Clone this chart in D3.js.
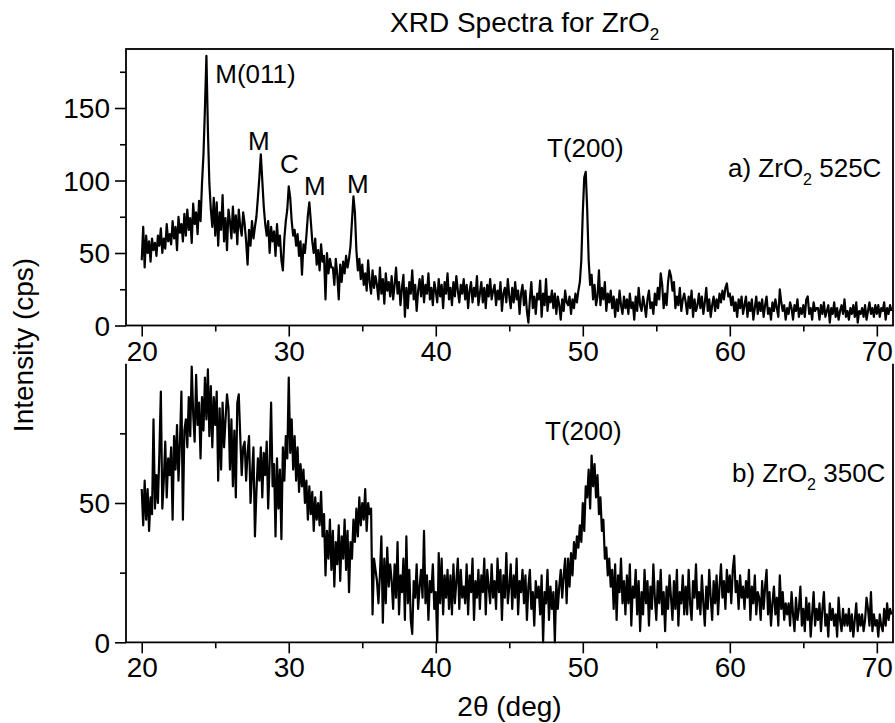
<!DOCTYPE html>
<html>
<head>
<meta charset="utf-8">
<script src="https://cdn.jsdelivr.net/npm/d3@7"></script>
<style>
  body { margin: 0; background: #fff; }
  text { font-family: "Liberation Sans", Arial, sans-serif; fill: #000; }
</style>
</head>
<body>
<div id="chart"></div>
<script>
// scan grid (deg 2-theta): one reading every 0.1 deg from 20 to 71
var scanStart = 20, scanStep = 0.1;

// a) ZrO2 525C, intensity (cps), one row per degree
var intensity525 = [
  45,68,40,62,50,58,44,60,52,57,   // 20
  48,62,55,67,50,60,53,70,58,63,   // 21
  56,72,60,68,52,75,64,70,58,77,   // 22
  62,80,66,74,57,84,70,78,63,86,   // 23
  72,98,118,150,186,135,98,80,68,88, // 24
  62,85,55,78,66,90,58,74,52,80,   // 25
  72,60,82,64,76,56,80,68,62,78,   // 26
  70,58,42,66,55,72,60,68,75,88,   // 27
  102,118,100,82,70,62,72,50,68,58, // 28
  65,48,70,55,62,45,38,60,72,80,   // 29
  96,88,72,62,66,55,63,48,58,35,   // 30
  56,50,62,76,85,72,58,50,60,42,   // 31
  52,38,56,44,48,18,50,36,46,40,   // 32
  40,28,46,35,18,42,30,44,36,48,   // 33
  40,46,55,72,89,78,52,38,46,32,   // 34
  42,28,36,24,45,30,22,38,26,34,   // 35
  28,18,40,22,32,15,36,24,30,20,   // 36
  34,18,28,40,22,30,14,26,35,6,    // 37
  26,12,30,22,38,18,28,10,24,32,   // 38
  20,34,16,28,22,36,18,26,14,30,   // 39
  24,16,32,20,28,12,30,22,36,18,   // 40
  26,14,30,20,34,24,16,28,22,32,   // 41
  18,28,12,24,30,16,26,20,34,14,   // 42
  22,30,16,26,12,28,20,32,18,24,   // 43
  28,14,24,18,30,10,22,26,16,32,   // 44
  20,12,26,16,30,18,24,8,22,28,    // 45
  14,24,10,2,18,30,12,20,8,22,     // 46
  18,31,6,22,14,32,10,20,16,24,    // 47
  12,22,8,20,14,4,18,10,24,16,     // 48
  14,20,8,18,12,22,16,24,30,45,    // 49
  78,102,106,80,45,28,35,18,28,14, // 50
  20,38,14,26,18,30,10,22,16,24,   // 51
  12,20,6,18,10,24,14,8,20,12,     // 52
  18,8,22,12,16,4,20,10,26,14,     // 53
  10,20,14,6,18,24,12,16,8,22,     // 54
  14,26,18,36,28,12,22,14,30,38,   // 55
  34,24,30,12,20,14,26,10,18,22,   // 56
  16,8,20,12,24,6,18,10,14,22,     // 57
  12,20,8,16,26,10,18,6,14,20,     // 58
  10,18,12,22,16,24,18,26,29,20,   // 59
  22,14,20,10,16,6,18,12,20,8,     // 60
  14,20,6,16,10,18,4,12,20,8,      // 61
  16,10,18,6,14,20,8,12,4,16,      // 62
  10,18,12,6,25,16,10,14,4,12,     // 63
  8,16,12,4,14,10,18,6,12,8,       // 64
  14,6,18,20,8,12,4,16,10,12,      // 65
  12,4,14,8,16,6,10,14,2,12,       // 66
  8,16,6,12,4,10,14,8,18,6,        // 67
  10,4,12,8,14,6,16,2,10,8,        // 68
  12,6,14,4,10,16,8,12,6,14,       // 69
  8,14,6,12,10,16,4,12,8,14,       // 70
  10
];

// b) ZrO2 350C, intensity (cps)
var intensity350 = [
  55,42,58,44,55,40,52,46,80,48,   // 20
  60,50,68,90,48,58,72,52,66,60,   // 21
  70,44,74,62,78,58,72,90,44,76,   // 22
  80,70,88,74,99,82,72,96,78,86,   // 23
  66,88,76,95,80,98,74,92,70,88,   // 24
  78,90,58,84,62,86,70,80,89,84,   // 25
  62,80,56,76,52,86,89,74,60,70,   // 26
  72,58,68,74,50,60,70,38,54,66,   // 27
  58,70,52,68,60,72,48,64,86,56,   // 28
  64,38,66,48,62,37,70,58,74,66,   // 29
  95,68,80,62,74,58,70,54,64,56,   // 30
  62,50,58,44,56,46,54,40,52,44,   // 31
  50,42,54,38,46,24,40,30,44,26,   // 32
  40,20,36,28,42,22,38,30,44,26,   // 33
  40,18,36,30,44,36,48,38,52,42,   // 34
  50,44,55,40,50,46,48,10,30,26,   // 35
  22,14,24,38,7,30,14,34,20,28,    // 36
  22,12,28,16,36,10,24,18,30,8,    // 37
  38,14,26,8,3,22,16,28,12,20,     // 38
  26,16,40,14,24,8,22,18,28,12,    // 39
  18,0,32,14,30,10,24,16,26,12,    // 40
  24,10,28,14,22,30,12,26,16,20,   // 41
  14,28,10,24,18,30,8,22,16,26,    // 42
  12,24,18,30,10,26,20,14,28,16,   // 43
  22,12,30,18,26,8,24,16,32,14,    // 44
  20,28,12,24,16,30,10,22,18,26,   // 45
  14,24,8,20,26,12,18,6,22,16,     // 46
  20,10,24,0,18,14,26,8,20,12,     // 47
  18,0,22,12,20,26,16,24,30,14,    // 48
  30,20,32,24,36,30,38,34,42,36,   // 49
  50,40,56,52,62,48,67,56,64,52,   // 50
  60,46,52,40,44,30,34,24,30,20,   // 51
  26,12,28,8,24,18,30,14,22,10,    // 52
  24,14,28,6,20,16,26,10,22,4,     // 53
  18,10,26,14,22,6,20,12,28,16,    // 54
  8,22,14,26,10,18,4,20,12,24,     // 55
  16,8,22,12,26,6,18,14,24,10,     // 56
  20,10,26,14,8,22,16,28,12,18,    // 57
  10,24,14,6,20,12,26,16,8,22,     // 58
  14,24,10,20,28,16,22,12,26,18,   // 59
  24,14,26,31,18,22,12,24,16,20,   // 60
  12,22,16,26,8,20,14,24,10,18,    // 61
  16,8,22,12,20,26,10,18,6,14,     // 62
  20,10,16,6,24,12,18,8,14,10,     // 63
  14,6,18,10,4,16,8,12,20,6,       // 64
  12,4,16,8,14,2,10,18,6,12,       // 65
  8,14,4,12,18,6,10,2,14,8,        // 66
  12,6,10,2,16,8,4,12,6,10,        // 67
  6,12,4,10,2,8,14,4,10,6,         // 68
  10,4,8,16,12,6,18,4,10,6,        // 69
  8,2,10,6,4,12,6,14,8,12,         // 70
  10
];

// tick values
var xMajor = [20, 30, 40, 50, 60, 70], xMinor = [25, 35, 45, 55, 65];
var yMajorA = [0, 50, 100, 150], yMinorA = [25, 75, 125, 175];
var yMajorB = [0, 50], yMinorB = [25, 75];

// peak labels, placed in data coordinates (deg, cps)
var peaksA = [
  {name: "M(011)", x: 25.0, y: 167},
  {name: "M", x: 27.23, y: 121},
  {name: "C", x: 29.41, y: 105},
  {name: "M", x: 31.04, y: 90},
  {name: "M", x: 33.97, y: 91.3},
  {name: "T(200)", x: 47.57, y: 116}
];
var peaksB = [
  {name: "T(200)", x: 47.43, y: 72.6}
];

var width = 895, height = 723;
var left = 126, right = 893;

var svg = d3.select("#chart")
  .append("svg")
  .attr("width", width)
  .attr("height", height);

var x = d3.scaleLinear().domain([18.93, 71.1]).range([left, right]);
var yA = d3.scaleLinear().domain([0, 190.7]).range([325.5, 49]);
var yB = d3.scaleLinear().domain([0, 100]).range([642.3, 363.7]);

function toPoints(arr) {
  return arr.map(function(v, i) { return [scanStart + i * scanStep, v]; });
}

function drawAxes(y, yMajor, yMinor, y0) {
  // x axis, major + minor ticks pointing out
  var gx = svg.append("g").attr("transform", `translate(0,${y0})`)
    .call(d3.axisBottom(x).tickValues(xMajor).tickSize(11).tickPadding(4).tickFormat(d3.format("d")));
  svg.append("g").attr("transform", `translate(0,${y0})`)
    .call(d3.axisBottom(x).tickValues(xMinor).tickSize(6).tickFormat(""));
  var gy = svg.append("g").attr("transform", `translate(${left},0)`)
    .call(d3.axisLeft(y).tickValues(yMajor).tickSize(11).tickPadding(5).tickFormat(d3.format("d")));
  svg.append("g").attr("transform", `translate(${left},0)`)
    .call(d3.axisLeft(y).tickValues(yMinor).tickSize(6).tickFormat(""));
  svg.selectAll(".domain").remove();
  svg.selectAll(".tick line").attr("stroke", "#000").attr("stroke-width", 1.6);
  gx.selectAll("text").attr("font-size", "28px").attr("dy", "0.72em");
  gy.selectAll("text").attr("font-size", "28px").attr("dy", "0.35em");
}

drawAxes(yA, yMajorA, yMinorA, 325.5);
drawAxes(yB, yMajorB, yMinorB, 642.3);

// panel frames
svg.append("rect")
  .attr("x", left).attr("y", 49)
  .attr("width", right - left).attr("height", 325.5 - 49)
  .attr("fill", "none").attr("stroke", "#000").attr("stroke-width", 1.8);
svg.append("path")
  .attr("d", `M${left},${yB(100)}V${yB(0)}H${right}V${yB(100)}`)
  .attr("fill", "none").attr("stroke", "#000").attr("stroke-width", 1.8);

// spectra
svg.append("path")
  .datum(toPoints(intensity525))
  .attr("fill", "none").attr("stroke", "#000").attr("stroke-width", 2.2)
  .attr("stroke-linejoin", "round")
  .attr("d", d3.line().x(d => x(d[0])).y(d => yA(d[1])));

svg.append("path")
  .datum(toPoints(intensity350))
  .attr("fill", "none").attr("stroke", "#000").attr("stroke-width", 2.2)
  .attr("stroke-linejoin", "round")
  .attr("d", d3.line().x(d => x(d[0])).y(d => yB(d[1])));

// peak labels
svg.selectAll("text.peakA")
  .data(peaksA).enter()
  .append("text")
  .attr("class", "peakA")
  .attr("x", d => x(d.x)).attr("y", d => yA(d.y))
  .attr("font-size", "26px")
  .text(d => d.name);

svg.selectAll("text.peakB")
  .data(peaksB).enter()
  .append("text")
  .attr("class", "peakB")
  .attr("x", d => x(d.x)).attr("y", d => yB(d.y))
  .attr("font-size", "26px")
  .text(d => d.name);

// sample labels with subscript
function sampleLabel(px, py, pre, post) {
  var t = svg.append("text").attr("x", px).attr("y", py).attr("font-size", "26px");
  t.append("tspan").text(pre);
  t.append("tspan").attr("font-size", "16px").attr("dy", 8).text("2");
  t.append("tspan").attr("dy", -8).text(post);
}
sampleLabel(728, 177, "a) ZrO", " 525C");
sampleLabel(732, 482, "b) ZrO", " 350C");

// title
var title = svg.append("text").attr("x", 390).attr("y", 32).attr("font-size", "28px");
title.append("tspan").text("XRD Spectra for ZrO");
title.append("tspan").attr("font-size", "17px").attr("dy", 8).text("2");

// axis titles
svg.append("text")
  .attr("transform", "translate(33,345) rotate(-90)")
  .attr("text-anchor", "middle")
  .attr("font-size", "28px")
  .text("Intensity (cps)");

svg.append("text")
  .attr("x", (left + right) / 2).attr("y", 716)
  .attr("text-anchor", "middle")
  .attr("font-size", "28px")
  .text("2\u03b8 (deg)");
</script>
</body>
</html>
